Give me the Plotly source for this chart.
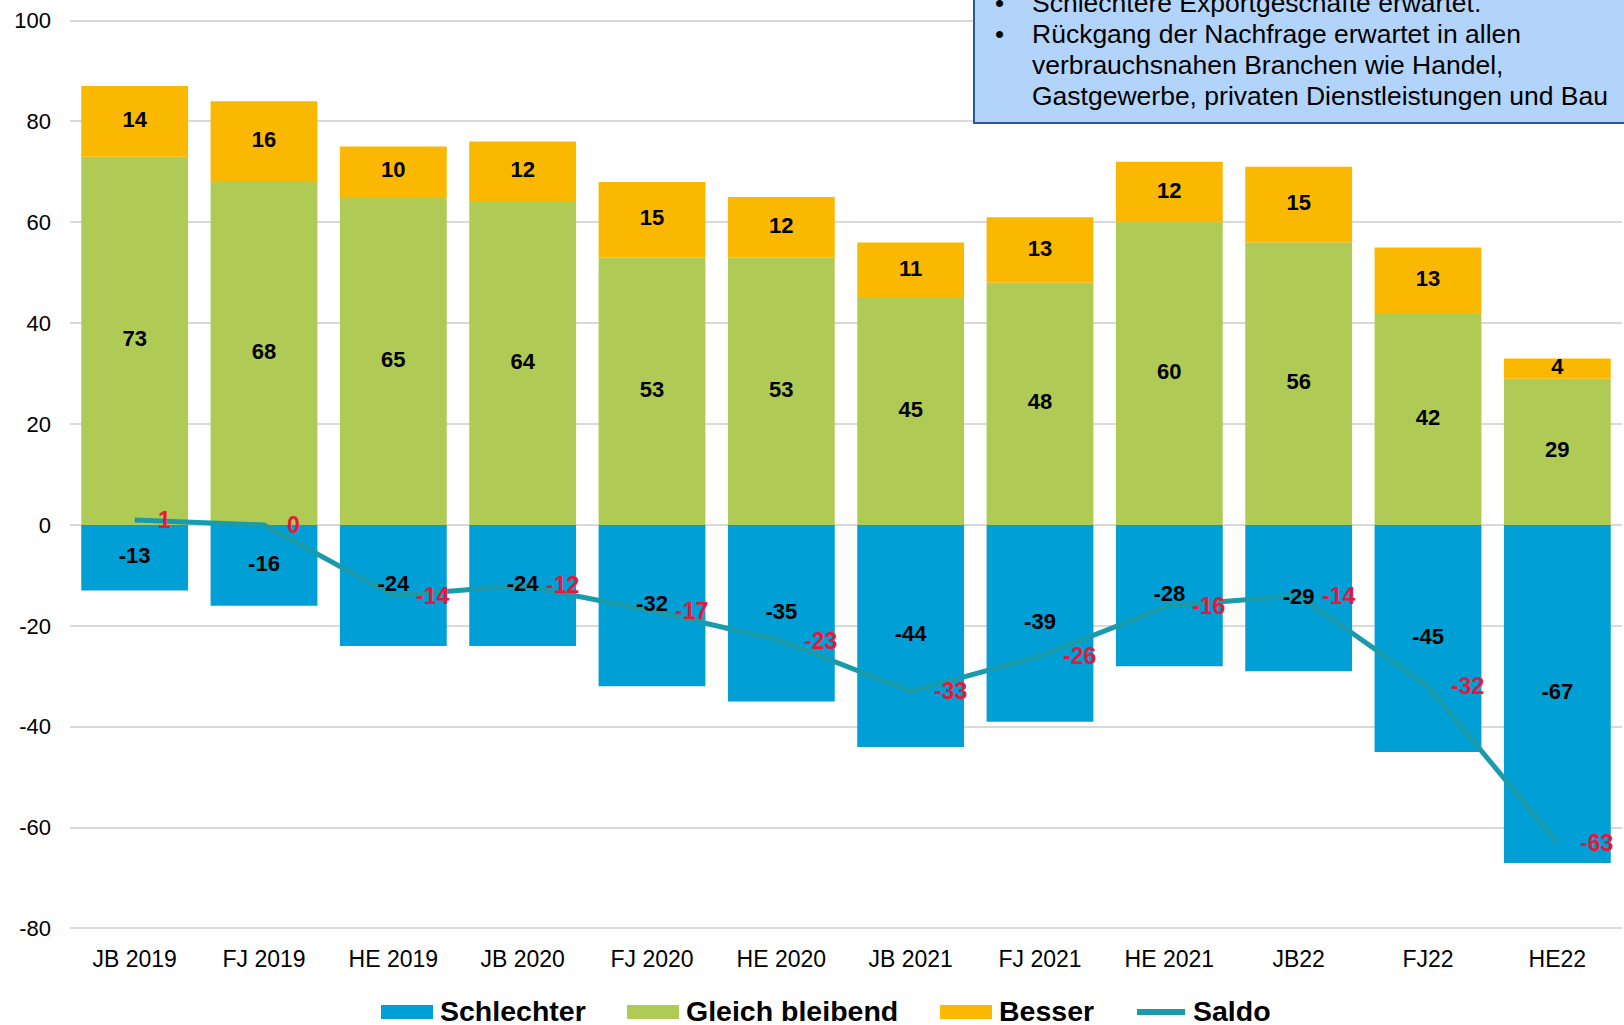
import plotly.graph_objects as go

categories = ["JB 2019", "FJ 2019", "HE 2019", "JB 2020", "FJ 2020", "HE 2020",
              "JB 2021", "FJ 2021", "HE 2021", "JB22", "FJ22", "HE22"]
schlechter = [-13, -16, -24, -24, -32, -35, -44, -39, -28, -29, -45, -67]
gleich = [73, 68, 65, 64, 53, 53, 45, 48, 60, 56, 42, 29]
besser = [14, 16, 10, 12, 15, 12, 11, 13, 12, 15, 13, 4]
saldo = [1, 0, -14, -12, -17, -23, -33, -26, -16, -14, -32, -63]

y_tickvals = [-80, -60, -40, -20, 0, 20, 40, 60, 80, 100]
y_ticktext = ["-80", "-60", "-40", "-20", "0", "20", "40", "60", "80", "100"]

box_lines = [
    "Schlechtere Exportgeschäfte erwartet.",
    "Rückgang der Nachfrage erwartet in allen",
    "verbrauchsnahen Branchen wie Handel,",
    "Gastgewerbe, privaten Dienstleistungen und Bau",
]

FONT = "Liberation Sans, Arial, sans-serif"
C_BLUE = "#00a0d6"
C_GREEN = "#b0cb55"
C_ORANGE = "#fbb800"
C_TEAL = "#1a9bab"
C_RED = "#e8173c"

# plot area geometry (pixels) used for paper-coordinate helpers
ML, MR, MT, MB = 70, 2, 19, 95
W, H = 1624, 1025
PW, PH = W - ML - MR, H - MT - MB


def px(X):
    return (X - ML) / PW


def py(Y):
    return (H - MB - Y) / PH


fig = go.Figure()
series = [("Schlechter", schlechter, C_BLUE), ("Gleich bleibend", gleich, C_GREEN),
          ("Besser", besser, C_ORANGE)]
for name, vals, color in series:
    fig.add_trace(go.Bar(x=categories, y=vals, name=name,
                         marker=dict(color=color, line=dict(width=0)),
                         hoverinfo="x+y+name"))

fig.add_trace(go.Scatter(x=categories, y=saldo, name="Saldo", mode="lines",
                         line=dict(color=C_TEAL, width=5)))

# bar value labels (drawn above the line, as in the reference)
lab_x, lab_y, lab_t = [], [], []
for i, c in enumerate(categories):
    lab_x += [c, c, c]
    lab_y += [schlechter[i] / 2, gleich[i] / 2, gleich[i] + besser[i] / 2]
    lab_t += [str(schlechter[i]), str(gleich[i]), str(besser[i])]
fig.add_trace(go.Scatter(x=lab_x, y=lab_y, text=lab_t, mode="text", showlegend=False,
                         hoverinfo="skip", cliponaxis=False,
                         textfont=dict(family=FONT, size=22, color="black", weight="bold")))

for c, v in zip(categories, saldo):
    fig.add_annotation(x=c, y=v, text=f"<b>{v}</b>", showarrow=False, xanchor="left",
                       yanchor="middle", xshift=21,
                       font=dict(family=FONT, size=23, color=C_RED))

# text box (top right)
fig.add_shape(type="rect", xref="paper", yref="paper", x0=px(974), x1=1.02, y0=py(123), y1=1.05,
              fillcolor="#b3d4fa", line=dict(color="#2a57a0", width=2), layer="above")
line_y = [3, 34, 65, 96]
bullets = [True, True, False, False]
for t, yy, b in zip(box_lines, line_y, bullets):
    fig.add_annotation(xref="paper", yref="paper", x=px(1030), y=py(yy), text=t, showarrow=False,
                       xanchor="left", yanchor="middle",
                       font=dict(family=FONT, size=26.5, color="black"))
    if b:
        fig.add_annotation(xref="paper", yref="paper", x=px(999), y=py(yy), text="•",
                           showarrow=False, xanchor="center", yanchor="middle",
                           font=dict(family=FONT, size=26, color="black"))

# legend drawn manually to match the wide swatches of the reference
legend_items = [("Schlechter", C_BLUE, "bar", 381), ("Gleich bleibend", C_GREEN, "bar", 627),
                ("Besser", C_ORANGE, "bar", 940), ("Saldo", C_TEAL, "line", 1134)]
LY = 1011
for name, color, kind, x0 in legend_items:
    if kind == "bar":
        fig.add_shape(type="rect", xref="paper", yref="paper", x0=px(x0), x1=px(x0 + 52),
                      y0=py(LY + 8), y1=py(LY - 6), fillcolor=color, line=dict(width=0))
    else:
        fig.add_shape(type="line", xref="paper", yref="paper", x0=px(x0 + 3), x1=px(x0 + 51),
                      y0=py(LY + 1), y1=py(LY + 1), line=dict(color=color, width=6))
    fig.add_annotation(xref="paper", yref="paper", x=px(x0 + 58), y=py(LY), text=f"<b>{name}</b>",
                       showarrow=False, xanchor="left", yanchor="middle", borderpad=0,
                       font=dict(family=FONT, size=28.5, color="black"))

fig.update_layout(
    width=W, height=H,
    margin=dict(l=ML, r=MR, t=MT, b=MB, autoexpand=False),
    barmode="relative", bargap=0.174,
    plot_bgcolor="white", paper_bgcolor="white",
    font=dict(family=FONT, size=22, color="black"),
    showlegend=False,
)
fig.update_xaxes(range=[-0.5, len(categories) - 0.5], showgrid=False, showline=False, ticks="",
                 ticklabelstandoff=13, tickfont=dict(size=23), automargin=False)
fig.update_yaxes(range=[-80.3, 100.3], tickvals=y_tickvals, ticktext=y_ticktext,
                 showgrid=True, gridcolor="#d9d9d9", gridwidth=2,
                 zeroline=True, zerolinecolor="#d9d9d9", zerolinewidth=2,
                 showline=False, ticks="", ticklabelstandoff=18, tickfont=dict(size=22),
                 automargin=False)

fig.write_html("out.html", config={"displayModeBar": False},
               post_script="document.body.style.margin='0';document.body.style.overflow='hidden';")
